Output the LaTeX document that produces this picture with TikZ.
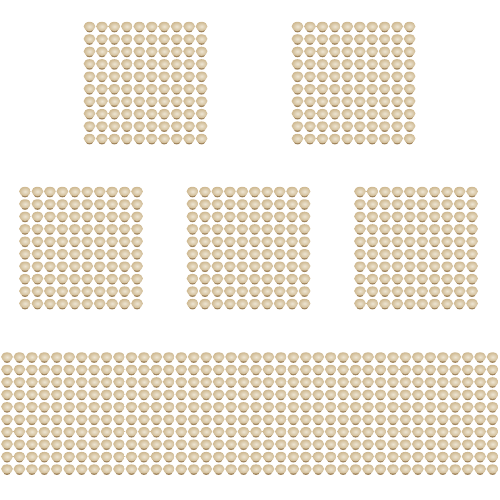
\documentclass[tikz,border=0pt]{standalone}
\usepackage{tikz}

\definecolor{beadlight}{RGB}{238,230,212}
\definecolor{beadtan}{RGB}{206,184,144}
\definecolor{beaddark}{RGB}{160,132,92}

\tikzset{
  bead/.pic={
    \fill[beaddark] (0,3.2) ellipse (3.4 and 2.2);
    \shade[inner color=beadlight, outer color=beadtan] (0,-0.6) ellipse (5.9 and 4.6);
  }
}

% x, y of the first bead, number of columns (10 rows each)
\newcommand{\beadgrid}[3]{%
  \foreach \c in {1,...,#3}
    \foreach \r in {1,...,10}
      \pic at ({#1+(\c-1)*12.45},{#2+(\r-1)*12.45}) {bead};
}

\begin{document}
\begin{tikzpicture}[x=1pt, y=-1pt]

\useasboundingbox (0,0) rectangle (500,500);

% Top row: two hundreds
\beadgrid{89.5}{27}{10}
\beadgrid{297.5}{27}{10}

% Middle row: three hundreds
\beadgrid{25}{192}{10}
\beadgrid{192.5}{192}{10}
\beadgrid{360}{192}{10}

% Bottom: four hundreds in one long block
\beadgrid{7}{357.5}{40}

\end{tikzpicture}
\end{document}
